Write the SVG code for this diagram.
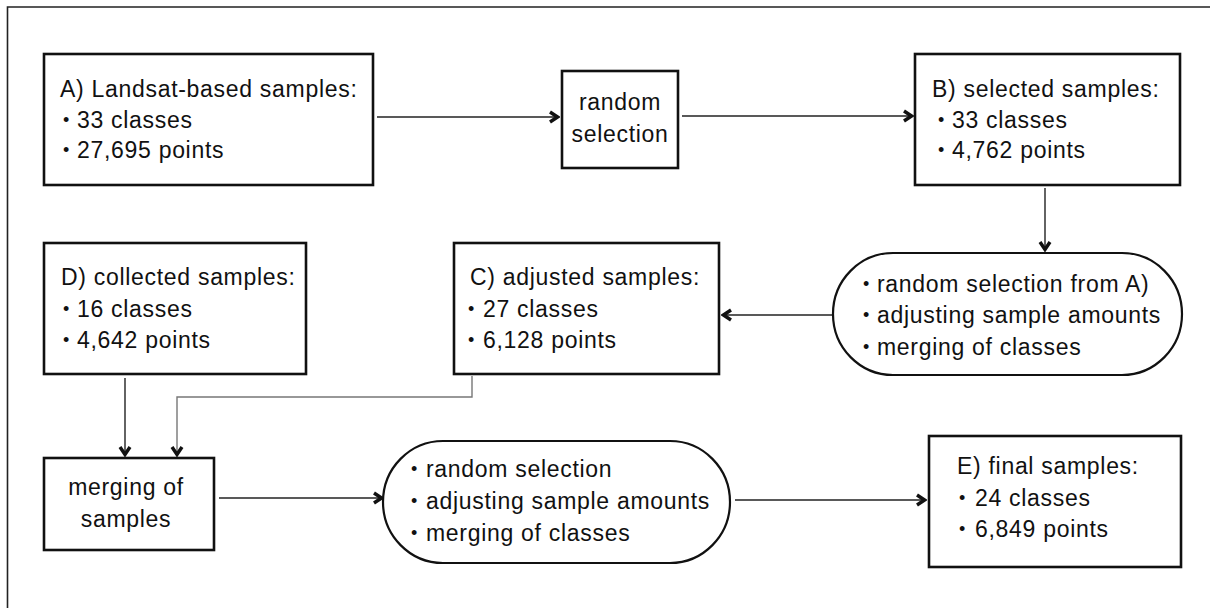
<svg xmlns="http://www.w3.org/2000/svg" width="1210" height="608" viewBox="0 0 1210 608">
<style>
  .box { fill: #fff; stroke: #111; stroke-width: 2.6; }
  .pill { fill: #fff; stroke: #111; stroke-width: 2.2; }
  .t { font-family: "Liberation Sans", Arial, sans-serif; font-size: 23px; fill: #111; letter-spacing: 0.7px; }
  .b { font-family: "Liberation Sans", Arial, sans-serif; font-size: 18px; fill: #111; }
  .c { text-anchor: middle; }
  .conn { fill: none; stroke: #222; stroke-width: 1.4; }
  .gray { stroke: #777; }
  .frame { fill: none; stroke: #222; stroke-width: 1.6; }
</style>
<defs>
  <marker id="arr" viewBox="0 0 12 14" refX="10" refY="7" markerWidth="12" markerHeight="14" markerUnits="userSpaceOnUse" orient="auto">
    <path d="M2,2 L9.5,7 L2,12" fill="none" stroke="#111" stroke-width="3.4" stroke-linejoin="miter"/>
  </marker>
</defs>
<rect width="1210" height="608" fill="#fff"/>
<path class="frame" d="M7.5,608 V7 H1210"/>

<g id="connectors">
  <path class="conn" d="M377,117 H558" marker-end="url(#arr)"/>
  <path class="conn" d="M682,116 H912" marker-end="url(#arr)"/>
  <path class="conn" d="M1045,188 V250" marker-end="url(#arr)"/>
  <path class="conn" d="M833,315 H723" marker-end="url(#arr)"/>
  <path class="conn" d="M125,378 V455" marker-end="url(#arr)"/>
  <path class="conn gray" d="M472,376 V397 H177 V455" marker-end="url(#arr)"/>
  <path class="conn" d="M219,498 H382" marker-end="url(#arr)"/>
  <path class="conn" d="M735,500 H925" marker-end="url(#arr)"/>
</g>

<g id="nodeA">
  <rect class="box" x="44" y="54" width="329" height="131"/>
  <text class="t" x="60" y="97">A) Landsat-based samples:</text>
  <text class="b" x="63" y="126">•</text>
  <text class="t" x="77" y="128">33 classes</text>
  <text class="b" x="63" y="156">•</text>
  <text class="t" x="77" y="158">27,695 points</text>
</g>

<g id="nodeRandom">
  <rect class="box" x="562" y="71" width="116" height="97"/>
  <text class="t c" x="620" y="110">random</text>
  <text class="t c" x="620" y="142">selection</text>
</g>

<g id="nodeB">
  <rect class="box" x="915" y="54" width="265" height="131"/>
  <text class="t" x="932" y="97">B) selected samples:</text>
  <text class="b" x="938" y="126">•</text>
  <text class="t" x="952" y="128">33 classes</text>
  <text class="b" x="938" y="156">•</text>
  <text class="t" x="952" y="158">4,762 points</text>
</g>

<g id="process1">
  <rect class="pill" x="833" y="253" width="349" height="122" rx="60" ry="61"/>
  <text class="b" x="863" y="290">•</text>
  <text class="t" x="877" y="292">random selection from A)</text>
  <text class="b" x="863" y="321">•</text>
  <text class="t" x="877" y="323">adjusting sample amounts</text>
  <text class="b" x="863" y="353">•</text>
  <text class="t" x="877" y="355">merging of classes</text>
</g>

<g id="nodeC">
  <rect class="box" x="454" y="243" width="265" height="131"/>
  <text class="t" x="470" y="285">C) adjusted samples:</text>
  <text class="b" x="468" y="315">•</text>
  <text class="t" x="483" y="317">27 classes</text>
  <text class="b" x="468" y="346">•</text>
  <text class="t" x="483" y="348">6,128 points</text>
</g>

<g id="nodeD">
  <rect class="box" x="44" y="243" width="262" height="131"/>
  <text class="t" x="61" y="285">D) collected samples:</text>
  <text class="b" x="63" y="315">•</text>
  <text class="t" x="77" y="317">16 classes</text>
  <text class="b" x="63" y="346">•</text>
  <text class="t" x="77" y="348">4,642 points</text>
</g>

<g id="nodeMerge">
  <rect class="box" x="44" y="458" width="170" height="92"/>
  <text class="t c" x="126" y="495">merging of</text>
  <text class="t c" x="126" y="527">samples</text>
</g>

<g id="process2">
  <rect class="pill" x="383" y="441" width="347" height="122" rx="60" ry="61"/>
  <text class="b" x="411" y="475">•</text>
  <text class="t" x="426" y="477">random selection</text>
  <text class="b" x="411" y="507">•</text>
  <text class="t" x="426" y="509">adjusting sample amounts</text>
  <text class="b" x="411" y="539">•</text>
  <text class="t" x="426" y="541">merging of classes</text>
</g>

<g id="nodeE">
  <rect class="box" x="929" y="436" width="252" height="131"/>
  <text class="t" x="957" y="474">E) final samples:</text>
  <text class="b" x="959" y="504">•</text>
  <text class="t" x="975" y="506">24 classes</text>
  <text class="b" x="959" y="535">•</text>
  <text class="t" x="975" y="537">6,849 points</text>
</g>
</svg>
